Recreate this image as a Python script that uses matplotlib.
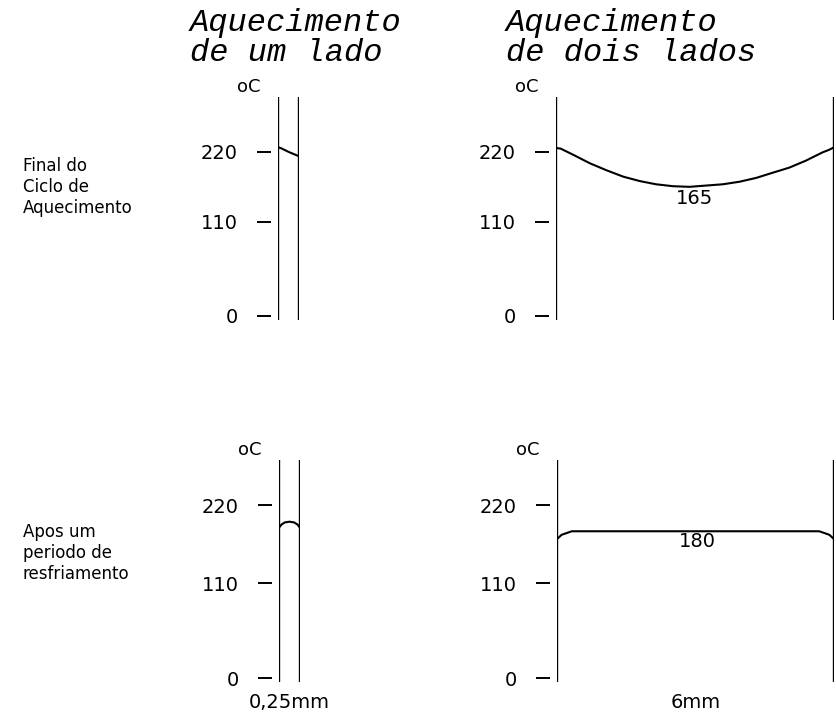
import numpy as np
import matplotlib
matplotlib.use('Agg')
import matplotlib.pyplot as plt

# espessura (mm) x temperatura (oC)
x_um_fim = [0, 0.03, 0.14, 0.25]
t_um_fim = [227, 226, 219, 213]
x_dois_fim = [0, 0.1, 0.38, 0.73, 1.09, 1.45, 1.81, 2.16, 2.52, 2.88,
              3.24, 3.60, 3.96, 4.32, 4.67, 5.03, 5.39, 5.75, 5.89, 6.0]
t_dois_fim = [226, 225, 215, 202, 191, 181, 174, 169, 166, 165,
              167, 169, 173, 179, 187, 195, 206, 219, 223, 227]
x_um_resf = [0, 0.03, 0.07, 0.125, 0.18, 0.22, 0.25]
t_um_resf = [188, 192.5, 195.5, 196.5, 195.5, 192.5, 188]
x_dois_resf = [0, 0.1, 0.32, 3.0, 5.68, 5.9, 6.0]
t_dois_resf = [172, 178, 183, 183, 183, 178, 172]

rotulo_fim = 165
rotulo_resf = 180
ticks = [0, 110, 220]


def escala(p110, p220):
    # o eixo do original nao e linear: 0-110 e 110-220 tem alturas diferentes
    def fwd(v):
        v = np.asarray(v, float)
        out = np.interp(v, [0, 110, 220], [0, p110, p220])
        out = np.where(v > 220, p220 + (v - 220) * (p220 - p110) / 110, out)
        out = np.where(v < 0, v * p110 / 110, out)
        return out

    def inv(p):
        p = np.asarray(p, float)
        out = np.interp(p, [0, p110, p220], [0, 110, 220])
        out = np.where(p > p220, 220 + (p - p220) * 110 / (p220 - p110), out)
        out = np.where(p < 0, p * 110 / p110, out)
        return out
    return fwd, inv


W, H = 836, 714
fig = plt.figure(figsize=(W / 100, H / 100), dpi=100)


def painel(px, py, pw, ph, xmax, x, t, esc, ylim):
    ax = fig.add_axes([px / W, 1 - (py + ph) / H, pw / W, ph / H])
    ax.set_yscale('function', functions=esc)
    ax.plot(x, t, color='black', lw=1.5)
    ax.set_xlim(0, xmax)
    ax.set_ylim(*ylim)
    for s in ['top', 'bottom', 'right']:
        ax.spines[s].set_visible(False)
    ax.spines['left'].set_position(('outward', 5))
    ax.spines['left'].set_color('none')
    ax.axvline(0, color='black', lw=1.7)
    ax.axvline(xmax, color='black', lw=1.7)
    ax.set_xticks([])
    ax.set_yticks(ticks)
    ax.set_yticklabels([str(v) for v in ticks], fontsize=14)
    ax.tick_params(axis='y', direction='out', length=10, width=1.4, pad=14)
    ax.yaxis.set_minor_locator(plt.NullLocator())
    ax.annotate('oC', xy=(0, 1), xycoords='axes fraction', xytext=(-21, 1),
                textcoords='offset points', ha='center', va='bottom', fontsize=13)
    return ax


esc_cima = escala(94, 164)
esc_baixo = escala(95, 173)

a1 = painel(278, 97, 21, 223, 0.25, x_um_fim, t_um_fim, esc_cima, (-4.7, 306))
a2 = painel(556, 97, 278, 223, 6, x_dois_fim, t_dois_fim, esc_cima, (-4.7, 306))
a3 = painel(279, 460, 21, 222, 0.25, x_um_resf, t_um_resf, esc_baixo, (-4.6, 283.5))
a4 = painel(557, 460, 277, 222, 6, x_dois_resf, t_dois_resf, esc_baixo, (-4.6, 283.5))

a2.text(3.0, rotulo_fim - 3, str(rotulo_fim), ha='center', va='top', fontsize=14)
a4.text(3.05, rotulo_resf + 2, str(rotulo_resf), ha='center', va='top', fontsize=14)

a3.set_xlabel('0,25mm', fontsize=14, labelpad=8)
a4.set_xlabel('6mm', fontsize=14, labelpad=8)

titulo = dict(family='Liberation Mono', style='italic', fontsize=23,
              ha='left', va='top', linespacing=1.0)
fig.text(190 / W, 1 - 8 / H, 'Aquecimento\nde um lado', **titulo)
fig.text(506 / W, 1 - 8 / H, 'Aquecimento\nde dois lados', **titulo)

lado = dict(fontsize=12, ha='left', va='center', linespacing=1.2)
fig.text(23 / W, 1 - 187 / H, 'Final do\nCiclo de\nAquecimento', **lado)
fig.text(23 / W, 1 - 553 / H, 'Apos um\nperiodo de\nresfriamento', **lado)

fig.savefig('out.png', dpi=100)
